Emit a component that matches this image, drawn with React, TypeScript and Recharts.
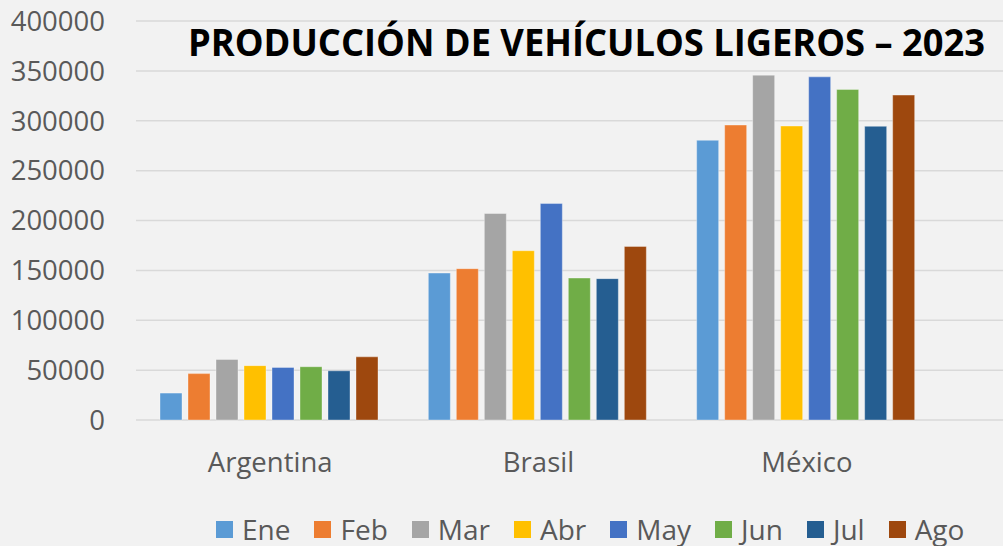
import { BarChart, Bar, XAxis, YAxis, CartesianGrid } from "recharts";

const countries = ["Argentina", "Brasil", "México"];
const months = ["Ene", "Feb", "Mar", "Abr", "May", "Jun", "Jul", "Ago"];
const monthColors = ["#5B9BD5", "#ED7D31", "#A5A5A5", "#FFC000", "#4472C4", "#70AD47", "#255E91", "#9E480E"];

const argentina = [27000, 46500, 60700, 54500, 52700, 53400, 49300, 63300];
const brasil = [147300, 151700, 207000, 169700, 217000, 142300, 141700, 174000];
const mexico = [280400, 295700, 345700, 294700, 344000, 331400, 294400, 325700];

const yTicks = [0, 50000, 100000, 150000, 200000, 250000, 300000, 350000, 400000];

const byCountry = [argentina, brasil, mexico];
const data = countries.map((country, i) => {
  const row: Record<string, string | number> = { country };
  months.forEach((m, j) => {
    row[m] = byCountry[i][j];
  });
  return row;
});

const FONT = "'Open Sans', 'Noto Sans', sans-serif";
const tickStyle = { fill: "#595959", fontSize: 27.5, fontFamily: FONT };

export default function App() {
  return (
    <div
      style={{
        position: "absolute",
        left: 0,
        top: 0,
        width: 1003,
        height: 546,
        background: "#F2F2F2",
        overflow: "hidden",
      }}
    >
      <BarChart
        width={1003}
        height={546}
        data={data}
        margin={{ top: 21, right: 0, bottom: 66, left: 0 }}
        barGap={6}
        barCategoryGap={24}
      >
        <CartesianGrid vertical={false} stroke="#D9D9D9" strokeWidth={1.5} />
        <XAxis
          dataKey="country"
          height={60}
          axisLine={false}
          tickLine={false}
          tick={tickStyle}
          tickMargin={26}
          padding={{ left: 0, right: 62 }}
        />
        <YAxis
          width={136}
          domain={[0, 400000]}
          ticks={yTicks}
          interval={0}
          axisLine={false}
          tickLine={false}
          tick={tickStyle}
          tickMargin={25}
        />
        {months.map((m, i) => (
          <Bar
            key={m}
            dataKey={m}
            fill={monthColors[i]}
            stroke="rgba(255,255,255,0.35)"
            strokeWidth={1}
            isAnimationActive={false}
          />
        ))}
      </BarChart>

      <svg
        width={1003}
        height={80}
        style={{ position: "absolute", left: 0, top: 0, pointerEvents: "none" }}
      >
        <text
          x={188}
          y={56}
          textLength={797}
          lengthAdjust="spacingAndGlyphs"
          fontFamily={FONT}
          fontWeight={700}
          fontSize={37}
          fill="#000"
        >
          PRODUCCIÓN DE VEHÍCULOS LIGEROS – 2023
        </text>
      </svg>

      <div
        style={{
          position: "absolute",
          left: 216,
          top: 510,
          display: "flex",
          alignItems: "center",
          fontFamily: FONT,
          fontSize: 28,
          color: "#595959",
          whiteSpace: "nowrap",
        }}
      >
        {months.map((m, i) => (
          <div key={m} style={{ display: "flex", alignItems: "center", marginRight: 24 }}>
            <span
              style={{
                display: "inline-block",
                width: 17,
                height: 17,
                background: monthColors[i],
                marginRight: 9,
              }}
            />
            <span>{m}</span>
          </div>
        ))}
      </div>
    </div>
  );
}
